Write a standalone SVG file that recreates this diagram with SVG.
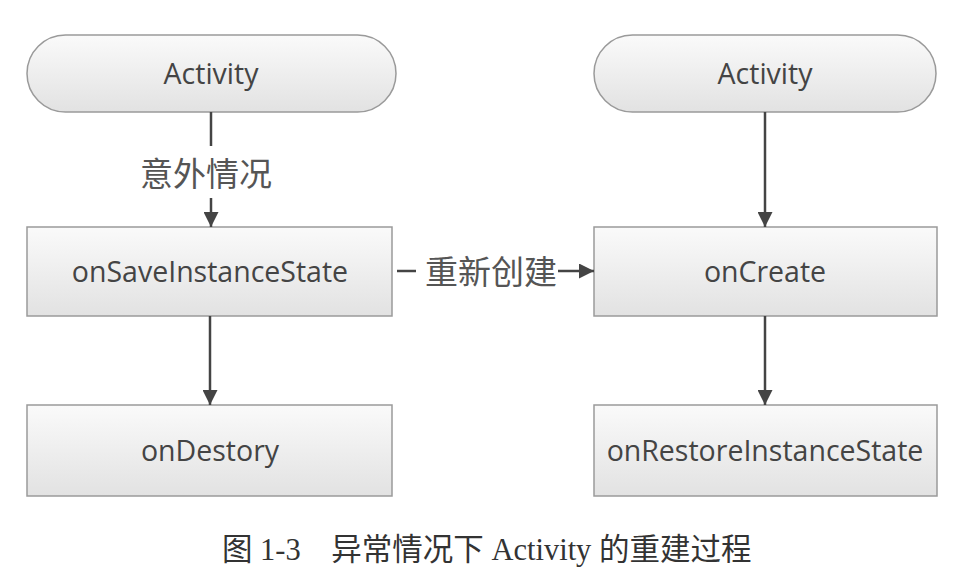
<svg xmlns="http://www.w3.org/2000/svg" width="954" height="587" viewBox="0 0 954 587">
<defs>
<linearGradient id="g" x1="0" y1="0" x2="0" y2="1">
<stop offset="0" stop-color="#fafafa"/>
<stop offset="1" stop-color="#e2e2e2"/>
</linearGradient>
<marker id="ah" viewBox="0 0 10 10" refX="10" refY="5" markerWidth="15" markerHeight="15" markerUnits="userSpaceOnUse" orient="auto">
<path d="M0,0 L10,5 L0,10 z" fill="#444"/>
</marker>
</defs>
<style>
.n{fill:url(#g);stroke:#9a9a9a;stroke-width:1.5}
.t{font-family:"Open Sans","Liberation Sans",sans-serif;font-size:28.5px;fill:#444;text-anchor:middle;dominant-baseline:central}
.c{stroke:#444;stroke-width:2.5;fill:none}
.l{font-family:"Noto Sans CJK SC",sans-serif;font-size:33px;fill:#555;text-anchor:middle;dominant-baseline:central}
.cap{font-family:"Liberation Serif","Noto Sans CJK SC",serif;font-size:30.5px;fill:#333}
</style>
<rect width="954" height="587" fill="#fff"/>
<g id="activity1"><rect class="n" x="27" y="35" width="369" height="77" rx="38.5"/><text class="t" x="211" y="73">Activity</text></g>
<g id="activity2"><rect class="n" x="594" y="35" width="342" height="77" rx="38.5"/><text class="t" x="765" y="73">Activity</text></g>
<g id="onSave"><rect class="n" x="27" y="227" width="365" height="89"/><text class="t" x="210" y="271">onSaveInstanceState</text></g>
<g id="onCreate"><rect class="n" x="594" y="227" width="343" height="89"/><text class="t" x="765" y="271">onCreate</text></g>
<g id="onDestory"><rect class="n" x="27" y="405" width="365" height="91"/><text class="t" x="210" y="450">onDestory</text></g>
<g id="onRestore"><rect class="n" x="594" y="405" width="343" height="91"/><text class="t" x="765" y="450">onRestoreInstanceState</text></g>
<g id="connectors">
<line class="c" x1="211" y1="112" x2="211" y2="146"/>
<line class="c" x1="211" y1="198" x2="211" y2="227" marker-end="url(#ah)"/>
<text class="l" x="206" y="172">意外情况</text>
<line class="c" x1="210" y1="316" x2="210" y2="405" marker-end="url(#ah)"/>
<line class="c" x1="765" y1="112" x2="765" y2="227" marker-end="url(#ah)"/>
<line class="c" x1="765" y1="316" x2="765" y2="405" marker-end="url(#ah)"/>
<line class="c" x1="397" y1="271" x2="416" y2="271"/>
<text class="l" x="491" y="270">重新创建</text>
<line class="c" x1="558" y1="271" x2="594" y2="271" marker-end="url(#ah)"/>
</g>
<text class="cap" x="222" y="560">图 1-3　异常情况下 Activity 的重建过程</text>
</svg>
